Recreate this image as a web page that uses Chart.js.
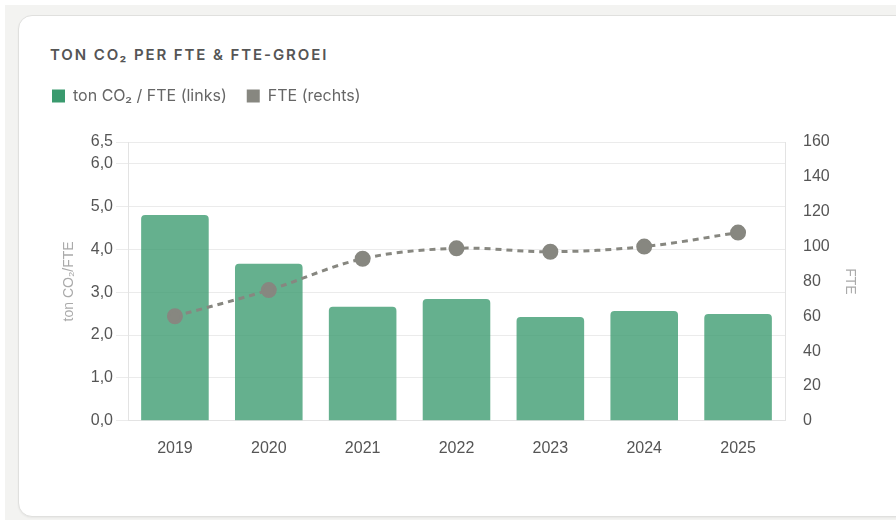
<!DOCTYPE html>
<html>
<head>
<meta charset="utf-8">
<script src="https://cdn.jsdelivr.net/npm/chart.js@4"></script>
<style>
    html, body { margin: 0; padding: 0; background: #fff; }
    .page { position: absolute; left: 5px; top: 5px; width: 891px; height: 515px; background: #f3f3f1; overflow: hidden; }
    .card { position: absolute; left: 13px; top: 10px; width: 890px; height: 500px; background: #fff;
            border: 1px solid #e0e0de; border-radius: 14px; box-shadow: 0 1px 2px rgba(0,0,0,0.05); }
    .title { position: absolute; left: 31px; top: 29px; font: 600 15px Inter, sans-serif; letter-spacing: 1.9px; color: #555; }
    .wrap { position: absolute; left: 13px; top: 52px; width: 836px; height: 400px; }
</style>
</head>
<body>
<div class="page">
    <div class="card">
        <div class="title">TON CO₂ PER FTE &amp; FTE-GROEI</div>
        <div class="wrap"><canvas id="chartCo2"></canvas></div>
    </div>
</div>
<script>
// categories + series
const jaren = ['2019', '2020', '2021', '2022', '2023', '2024', '2025'];
const tonPerFte = [4.80, 3.66, 2.66, 2.84, 2.42, 2.56, 2.49];
const fte = [60, 75, 93, 99, 97, 100, 108];

const groen = 'rgb(58, 154, 110)';
const grijs = 'rgb(135, 135, 128)';
const tickFont = { family: "'Liberation Sans', Arial, sans-serif", size: 16 };

// extra space under the legend
const legendMargin = {
    id: 'legendMargin',
    beforeInit(chart) {
        const fit = chart.legend.fit;
        chart.legend.fit = function () {
            fit.bind(chart.legend)();
            this.height += 28;
        };
    }
};

new Chart(document.getElementById('chartCo2').getContext('2d'), {
    data: {
        labels: jaren,
        datasets: [{
            type: 'line',
            label: 'FTE (rechts)',
            data: fte,
            yAxisID: 'y1',
            borderColor: grijs,
            backgroundColor: grijs,
            borderWidth: 3,
            borderDash: [6, 5],
            tension: 0.35,
            pointRadius: 6.5,
            pointHoverRadius: 8,
            fill: false,
            order: 0
        }, {
            type: 'bar',
            label: 'ton CO₂ / FTE (links)',
            data: tonPerFte,
            yAxisID: 'y',
            backgroundColor: 'rgba(58, 154, 110, 0.78)',
            borderRadius: 4,
            borderSkipped: 'bottom',
            order: 1
        }]
    },
    options: {
        responsive: true,
        maintainAspectRatio: false,
        animation: false,
        plugins: {
            legend: {
                display: true,
                align: 'start',
                reverse: true,
                labels: {
                    boxWidth: 13,
                    boxHeight: 13,
                    useBorderRadius: true,
                    borderRadius: 2,
                    padding: 20,
                    color: '#666',
                    font: { family: 'Inter', size: 16 },
                    generateLabels: function (chart) {
                        return chart.data.datasets.map(function (ds, i) {
                            const kleur = ds.type === 'bar' ? groen : grijs;
                            return {
                                text: ds.label,
                                fillStyle: kleur,
                                strokeStyle: kleur,
                                lineWidth: 0,
                                fontColor: '#666',
                                datasetIndex: i,
                                hidden: false
                            };
                        });
                    }
                }
            },
            tooltip: { enabled: true }
        },
        scales: {
            x: {
                grid: { display: false },
                border: { color: '#e3e3e3' },
                ticks: { color: '#555', font: tickFont, padding: 10 }
            },
            y: {
                position: 'left',
                min: 0,
                max: 6.5,
                afterFit: function (scale) { scale.width = 96; },
                ticks: {
                    stepSize: 1,
                    color: '#555',
                    font: tickFont,
                    padding: 3,
                    callback: function (value) {
                        return value.toFixed(1).replace('.', ',');
                    }
                },
                grid: { color: '#ebebeb', tickLength: 12 },
                border: { color: '#e3e3e3' },
                title: {
                    display: true,
                    text: 'ton CO₂/FTE',
                    color: '#aaa',
                    font: { family: tickFont.family, size: 14 },
                    padding: { top: 29, bottom: 4 }
                }
            },
            y1: {
                position: 'right',
                min: 0,
                max: 160,
                afterFit: function (scale) { scale.width = 83; },
                ticks: { stepSize: 20, color: '#555', font: tickFont, padding: 18 },
                grid: { drawOnChartArea: false, drawTicks: false },
                border: { color: '#e3e3e3' },
                title: {
                    display: true,
                    text: 'FTE',
                    color: '#aaa',
                    font: { family: tickFont.family, size: 14 },
                    padding: { top: 10, bottom: 4 }
                }
            }
        }
    },
    plugins: [legendMargin]
});
</script>
</body>
</html>
